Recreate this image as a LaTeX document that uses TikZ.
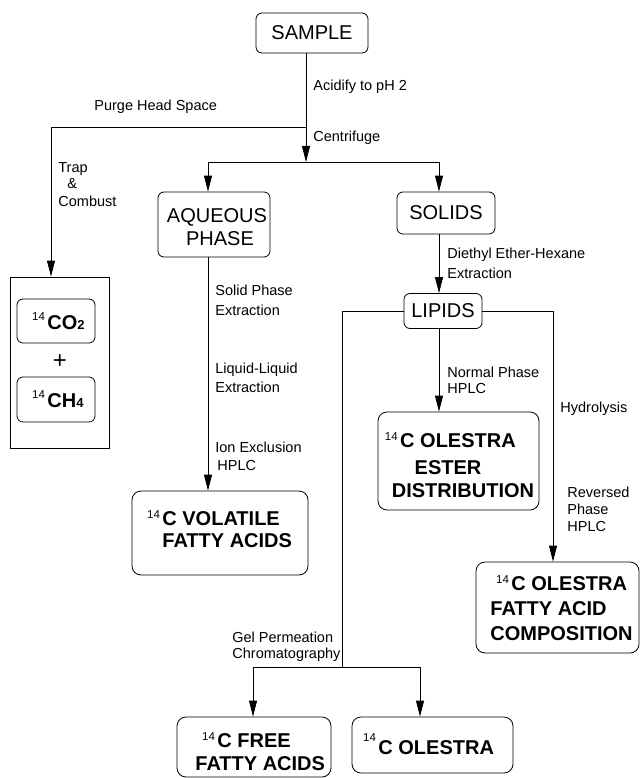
\documentclass[tikz,border=0pt]{standalone}
\usepackage{fontspec}
\setmainfont{Liberation Sans}
\usetikzlibrary{arrows.meta}
\newcommand\isoC[1][6.5pt]{\llap{\fontsize{11.5}{11.5}\selectfont\mdseries\raisebox{#1}{14}\hspace{2.5pt}}}
\begin{document}
\begin{tikzpicture}[x=1pt,y=-1pt,line width=0.8pt,
  arr/.style={-{Triangle[length=16pt,width=8pt]}},
  sbox/.style={draw,rounded corners=6pt,inner sep=0pt,font=\fontsize{20}{23}\selectfont},
  bbox/.style={draw,rounded corners=9pt,inner sep=0pt},
  gbox/.style={draw,inner sep=0pt},
  lbl/.style={inner sep=0pt,anchor=base west,font=\fontsize{14.5}{17}\selectfont},
  btxt/.style={inner sep=0pt,anchor=base west,font=\fontsize{20}{23}\selectfont\bfseries},
  ctxt/.style={inner sep=0pt,anchor=base,font=\fontsize{20}{23}\selectfont\bfseries},
  rtxt/.style={inner sep=0pt,anchor=base,font=\fontsize{20}{23}\selectfont}]
\useasboundingbox (0,0) rectangle (641,778);

% boxes
\node[sbox,minimum width=112pt,minimum height=40pt] (sample) at (312,33) {SAMPLE};
\node[sbox,minimum width=112pt,minimum height=65pt] (aq) at (214,224.5) {};
\node[rtxt] (aqt1) at (217,222) {AQUEOUS};
\node[rtxt] (aqt2) at (220,245) {PHASE};
\node[sbox,minimum width=98pt,minimum height=42pt] (solids) at (446,213) {SOLIDS};
\node[sbox,minimum width=78pt,minimum height=35pt] (lipids) at (443,311) {LIPIDS};

\node[gbox,minimum width=99pt,minimum height=171pt] (gas) at (59.5,362.5) {};
\node[sbox,minimum width=78pt,minimum height=44pt] (co2) at (56,321) {};
\node[btxt] (co2t) at (47,329) {\isoC[9pt]CO\fontsize{13}{13}\selectfont 2};
\node[inner sep=0pt,font=\fontsize{24}{24}\selectfont\mdseries] (plus) at (60,362) {+};
\node[sbox,minimum width=78pt,minimum height=45pt] (ch4) at (56,399.5) {};
\node[btxt] (ch4t) at (47,407) {\isoC[9pt]CH\fontsize{13}{13}\selectfont 4};

\node[bbox,minimum width=176pt,minimum height=84pt] (vfa) at (220,533) {};
\node[btxt] (vfat1) at (162,525) {\isoC C VOLATILE};
\node[btxt] (vfat2) at (162,547) {FATTY ACIDS};

\node[bbox,minimum width=161pt,minimum height=98pt] (ester) at (458.5,461) {};
\node[ctxt] (est1) at (458,447) {\isoC C OLESTRA};
\node[ctxt] (est2) at (448,474) {ESTER};
\node[ctxt] (est3) at (463,497) {DISTRIBUTION};

\node[bbox,minimum width=163pt,minimum height=91pt] (comp) at (557.5,607.5) {};
\node[btxt] (cmp1) at (511,590) {\isoC C OLESTRA};
\node[btxt] (cmp2) at (490,615) {FATTY ACID};
\node[btxt] (cmp3) at (490,640) {COMPOSITION};

\node[bbox,minimum width=154pt,minimum height=60pt] (ffa) at (254,747) {};
\node[btxt] (ffa1) at (217,747) {\isoC C FREE};
\node[btxt] (ffa2) at (195,770) {FATTY ACIDS};

\node[bbox,minimum width=161pt,minimum height=56pt] (ole) at (432.5,745) {};
\node[btxt] (ole1) at (378,754) {\isoC[13pt]C OLESTRA};

% labels
\node[lbl] (acid) at (313,91) {Acidify to pH 2};
\node[lbl] (purge) at (94,111) {Purge Head Space};
\node[lbl] (centr) at (313,142) {Centrifuge};
\node[lbl] (trap) at (58,172) {Trap};
\node[lbl] (amp) at (67,189) {\&};
\node[lbl] (comb) at (58,206) {Combust};
\node[lbl] (sph) at (215,295) {Solid Phase};
\node[lbl] (ex1) at (215,315) {Extraction};
\node[lbl] (liq) at (215,373) {Liquid-Liquid};
\node[lbl] (ex2) at (215,392) {Extraction};
\node[lbl] (ion) at (215,452) {Ion Exclusion};
\node[lbl] (hp1) at (217,470) {HPLC};
\node[lbl] (dee) at (447,258) {Diethyl Ether-Hexane};
\node[lbl] (ex3) at (447,278) {Extraction};
\node[lbl] (nph) at (447,377) {Normal Phase};
\node[lbl] (hp2) at (447,393) {HPLC};
\node[lbl] (hyd) at (560,412) {Hydrolysis};
\node[lbl] (rev) at (567,497) {Reversed};
\node[lbl] (rph) at (567,514) {Phase};
\node[lbl] (hp3) at (567,531) {HPLC};
\node[lbl] (gel) at (232,642) {Gel Permeation};
\node[lbl] (chr) at (232,658) {Chromatography};

% coordinates
\coordinate (split) at (306,127);
\coordinate (trapx) at (51,127);
\coordinate (brc) at (306,162);
\coordinate (bl) at (208,162);
\coordinate (br) at (439,162);
\coordinate (gpc) at (342,667);
\coordinate (g1) at (253,667);
\coordinate (g2) at (420,667);
\coordinate (hyx) at (553,311);

% connectors
\draw[arr] (sample.south -| brc) -- (brc);
\draw[arr] (split) -- (trapx) -- (gas.north -| trapx);
\draw (bl) -- (br);
\draw[arr] (bl) -- (aq.north -| bl);
\draw[arr] (br) -- (solids.north -| br);
\draw[arr] (aq.south -| bl) -- (vfa.north -| bl);
\draw[arr] (solids.south -| br) -- (lipids.north -| br);
\draw[arr] (lipids.south -| br) -- (ester.north -| br);
\draw (lipids.west) -| (gpc);
\draw (g1) -- (g2);
\draw[arr] (g1) -- (ffa.north -| g1);
\draw[arr] (g2) -- (ole.north -| g2);
\draw[arr] (lipids.east) -| (comp.north -| hyx);
\end{tikzpicture}
\end{document}
